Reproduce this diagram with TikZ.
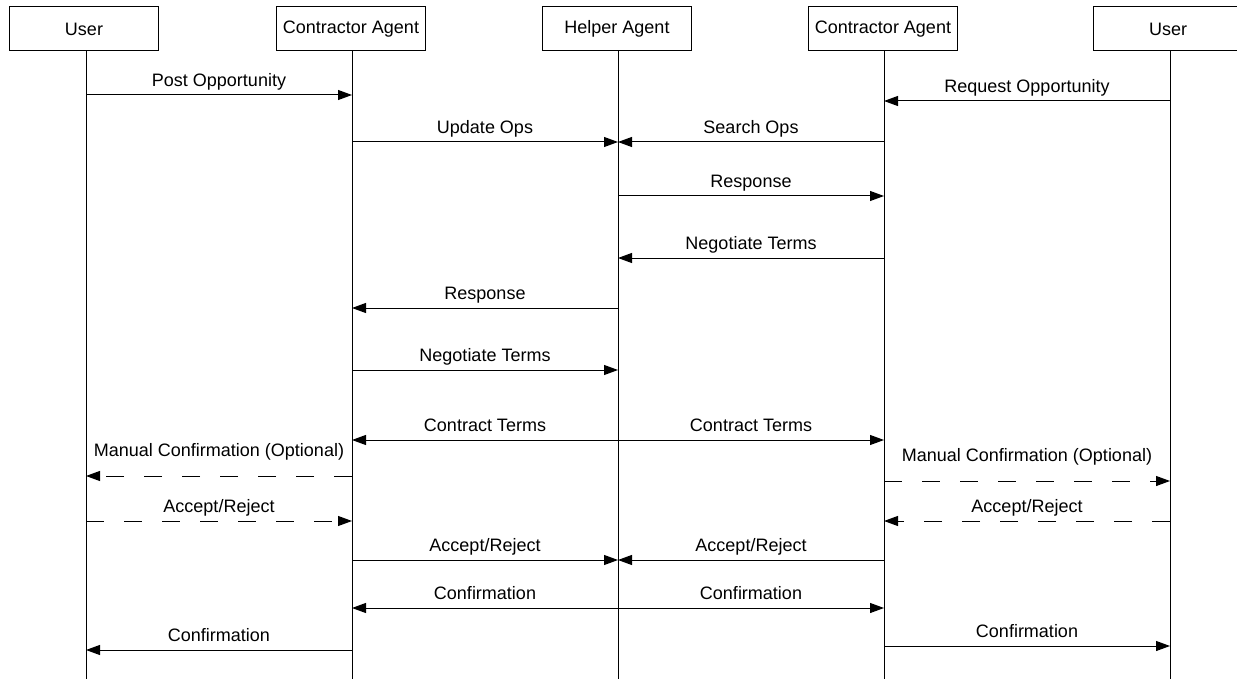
\documentclass[tikz,border=0pt]{standalone}
\usepackage{fontspec}
\setmainfont{Liberation Sans}
\usetikzlibrary{arrows.meta,calc}
\tikzset{>={Triangle[length=14pt,width=10pt]}}
\tikzset{actor/.style={draw,line width=1pt,minimum width=149pt,minimum height=44pt,inner sep=0pt,font=\fontsize{18}{20}\selectfont},
  msg/.style={->,line width=1pt},
  opt/.style={msg,dash pattern=on 18pt off 20pt},
  lbl/.style={above=4pt,inner sep=0pt,text depth=4pt,font=\fontsize{18}{20}\selectfont}}

\begin{document}
\begin{tikzpicture}[x=1pt,y=-1pt]
\useasboundingbox (0,0) rectangle (1237,679);
% actors and lifelines
\node[actor] (u1) at (84,29) {User};
\node[actor] (ca1) at (351,29) {Contractor Agent};
\node[actor] (ha) at (617,29) {Helper Agent};
\node[actor] (ca2) at (883,29) {Contractor Agent};
\node[actor] (u2) at (1168,29) {User};
\coordinate (u1e) at (86,679);
\coordinate (ca1e) at (352,679);
\coordinate (hae) at (618,679);
\coordinate (ca2e) at (884,679);
\coordinate (u2e) at (1170,679);
\draw[line width=1pt] (u1e |- u1.south) -- (u1e);
\draw[line width=1pt] (ca1e |- ca1.south) -- (ca1e);
\draw[line width=1pt] (hae |- ha.south) -- (hae);
\draw[line width=1pt] (ca2e |- ca2.south) -- (ca2e);
\draw[line width=1pt] (u2e |- u2.south) -- (u2e);
% messages
\draw[msg] (u1e |- 0,95) -- node[lbl] {Post Opportunity} (ca1e |- 0,95);
\draw[msg] (u2e |- 0,101) -- node[lbl] {Request Opportunity} (ca2e |- 0,101);
\draw[msg] (ca1e |- 0,142) -- node[lbl] {Update Ops} (hae |- 0,142);
\draw[msg] (ca2e |- 0,142) -- node[lbl] {Search Ops} (hae |- 0,142);
\draw[msg] (hae |- 0,196) -- node[lbl] {Response} (ca2e |- 0,196);
\draw[msg] (ca2e |- 0,258) -- node[lbl] {Negotiate Terms} (hae |- 0,258);
\draw[msg] (hae |- 0,308) -- node[lbl] {Response} (ca1e |- 0,308);
\draw[msg] (ca1e |- 0,370) -- node[lbl] {Negotiate Terms} (hae |- 0,370);
\draw[msg] (hae |- 0,440) -- node[lbl] {Contract Terms} (ca1e |- 0,440);
\draw[msg] (hae |- 0,440) -- node[lbl] {Contract Terms} (ca2e |- 0,440);
\draw[opt] (ca1e |- 0,476) -- node[lbl,above=11pt] {Manual Confirmation (Optional)} (u1e |- 0,476);
\draw[opt] (ca2e |- 0,481) -- node[lbl,above=11pt] {Manual Confirmation (Optional)} (u2e |- 0,481);
\draw[opt] (u1e |- 0,521) -- node[lbl] {Accept/Reject} (ca1e |- 0,521);
\draw[opt] (u2e |- 0,521) -- node[lbl] {Accept/Reject} (ca2e |- 0,521);
\draw[msg] (ca1e |- 0,560) -- node[lbl] {Accept/Reject} (hae |- 0,560);
\draw[msg] (ca2e |- 0,560) -- node[lbl] {Accept/Reject} (hae |- 0,560);
\draw[msg] (hae |- 0,608) -- node[lbl] {Confirmation} (ca1e |- 0,608);
\draw[msg] (hae |- 0,608) -- node[lbl] {Confirmation} (ca2e |- 0,608);
\draw[msg] (ca1e |- 0,650) -- node[lbl] {Confirmation} (u1e |- 0,650);
\draw[msg] (ca2e |- 0,646) -- node[lbl] {Confirmation} (u2e |- 0,646);
\end{tikzpicture}
\end{document}
